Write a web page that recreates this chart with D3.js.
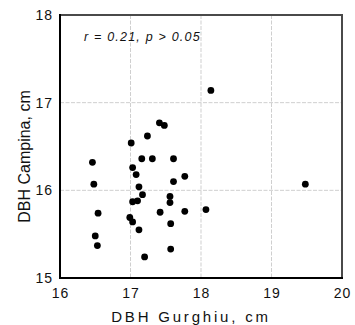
<!DOCTYPE html>
<html>
<head>
<meta charset="utf-8">
<script src="https://cdn.jsdelivr.net/npm/d3@7"></script>
<style>
  body { margin: 0; background: #fff; }
  text { font-family: "Liberation Sans", Arial, sans-serif; }
</style>
</head>
<body>
<div id="chart"></div>
<script>
// DBH values (cm)
var gurghiu = [16.46, 17.01, 17.24, 17.41, 17.48, 17.16, 17.31, 17.61, 17.03, 17.08,
  17.77, 17.61, 16.48, 17.12, 17.17, 17.56, 17.03, 17.10, 17.56, 16.54,
  17.42, 17.77, 18.07, 16.99, 17.03, 17.57, 17.12, 16.50, 16.53, 17.57,
  17.20, 18.14, 19.48];
var campina = [16.32, 16.54, 16.62, 16.77, 16.74, 16.36, 16.36, 16.36, 16.26, 16.18,
  16.16, 16.10, 16.07, 16.04, 15.95, 15.93, 15.87, 15.88, 15.86, 15.74,
  15.75, 15.76, 15.78, 15.69, 15.64, 15.62, 15.55, 15.48, 15.37, 15.33,
  15.24, 17.14, 16.07];
var xTicks = [16, 17, 18, 19, 20];
var yTicks = [15, 16, 17, 18];
var note = "r = 0.21, p > 0.05";

var margin = {top: 15, right: 13, bottom: 47, left: 60},
  width = 355 - margin.left - margin.right,
  height = 325 - margin.top - margin.bottom;

var svg = d3.select("#chart")
  .append("svg")
  .attr("width", 355)
  .attr("height", 325)
.append("g")
  .attr("transform", "translate(" + margin.left + "," + margin.top + ")");

var x = d3.scaleLinear().domain([16, 20]).range([0, width]);
var y = d3.scaleLinear().domain([15, 18]).range([height, 0]);

// grid lines
svg.selectAll(".gx")
  .data(xTicks.slice(1, -1))
  .enter().append("line")
  .attr("x1", function(d) { return x(d); })
  .attr("x2", function(d) { return x(d); })
  .attr("y1", 0).attr("y2", height)
  .style("stroke", "#cfcfcf")
  .style("stroke-dasharray", "4,1.5");
svg.selectAll(".gy")
  .data(yTicks.slice(1, -1))
  .enter().append("line")
  .attr("y1", function(d) { return y(d); })
  .attr("y2", function(d) { return y(d); })
  .attr("x1", 0).attr("x2", width)
  .style("stroke", "#cfcfcf")
  .style("stroke-dasharray", "4,1.5");

// frame: top and right grey, left and bottom black
svg.append("line").attr("x1", 0).attr("x2", width).attr("y1", 0).attr("y2", 0)
  .style("stroke", "#4a4a4a").style("stroke-width", 2);
svg.append("line").attr("x1", width).attr("x2", width).attr("y1", -1).attr("y2", height)
  .style("stroke", "#4a4a4a").style("stroke-width", 2);

// axes
var xAxis = svg.append("g")
  .attr("transform", "translate(0," + height + ")")
  .call(d3.axisBottom(x).tickValues(xTicks).tickSize(0).tickPadding(10).tickFormat(d3.format("d")));
var yAxis = svg.append("g")
  .call(d3.axisLeft(y).tickValues(yTicks).tickSize(0).tickPadding(7).tickFormat(d3.format("d")));

[xAxis, yAxis].forEach(function(a) {
  a.select(".domain").style("stroke", "#000").style("stroke-width", 2);
  a.selectAll("text")
    .style("font-family", "Liberation Sans, Arial, sans-serif")
    .style("font-size", "14px")
    .style("letter-spacing", "1px")
    .style("fill", "#111");
});
yAxis.select(".domain").attr("d", "M0," + (height + 1) + "V-1");
xAxis.select(".domain").attr("d", "M-1,0H" + (width + 1));

// points
svg.selectAll(".dot")
  .data(gurghiu)
  .enter().append("circle")
  .attr("cx", function(d) { return x(d); })
  .attr("cy", function(d, i) { return y(campina[i]); })
  .attr("r", 3.4)
  .style("fill", "#000");

// correlation note
svg.append("text")
  .attr("x", 24).attr("y", 26)
  .style("font-size", "12.5px")
  .style("font-style", "italic")
  .style("letter-spacing", "1.2px")
  .style("fill", "#111")
  .text(note);

// axis titles
svg.append("text")
  .attr("x", width / 2 - 10)
  .attr("y", height + 44)
  .style("text-anchor", "middle")
  .style("font-size", "15px")
  .style("letter-spacing", "2.8px")
  .style("fill", "#111")
  .text("DBH Gurghiu, cm");
svg.append("text")
  .attr("transform", "translate(" + (-30) + "," + (y(16.5) + 10) + ") rotate(-90)")
  .style("text-anchor", "middle")
  .style("font-size", "16px")
  .style("fill", "#111")
  .text("DBH Campina, cm");
</script>
</body>
</html>
